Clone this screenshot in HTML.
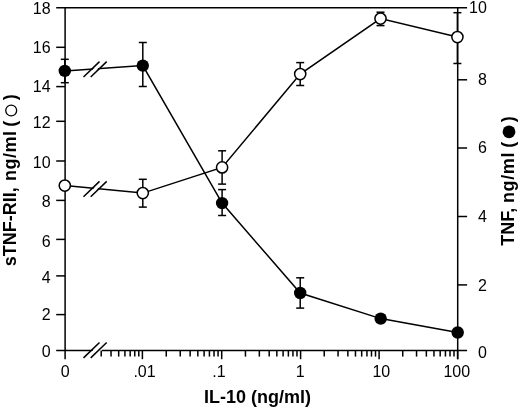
<!DOCTYPE html>
<html><head><meta charset="utf-8"><style>
html,body{margin:0;padding:0;background:#fff;}
svg{display:block;will-change:transform;}
text{font-family:"Liberation Sans",sans-serif;}
</style></head><body>
<svg width="520" height="409" viewBox="0 0 520 409">
<rect width="520" height="409" fill="#fff"/>
<line x1="56.20" y1="7.70" x2="467.10" y2="7.70" stroke="#000" stroke-width="1.5"/>
<line x1="65.10" y1="7.00" x2="65.10" y2="359.20" stroke="#000" stroke-width="1.5"/>
<line x1="457.70" y1="7.00" x2="457.70" y2="359.20" stroke="#000" stroke-width="1.5"/>
<line x1="56.20" y1="350.50" x2="95.00" y2="350.50" stroke="#000" stroke-width="1.5"/>
<line x1="102.00" y1="350.50" x2="467.10" y2="350.50" stroke="#000" stroke-width="1.5"/>
<line x1="56.20" y1="47.30" x2="65.10" y2="47.30" stroke="#000" stroke-width="1.5"/>
<line x1="56.20" y1="86.60" x2="65.10" y2="86.60" stroke="#000" stroke-width="1.5"/>
<line x1="56.20" y1="121.30" x2="65.10" y2="121.30" stroke="#000" stroke-width="1.5"/>
<line x1="56.20" y1="161.00" x2="65.10" y2="161.00" stroke="#000" stroke-width="1.5"/>
<line x1="56.20" y1="200.40" x2="65.10" y2="200.40" stroke="#000" stroke-width="1.5"/>
<line x1="56.20" y1="239.40" x2="65.10" y2="239.40" stroke="#000" stroke-width="1.5"/>
<line x1="56.20" y1="275.90" x2="65.10" y2="275.90" stroke="#000" stroke-width="1.5"/>
<line x1="56.20" y1="314.60" x2="65.10" y2="314.60" stroke="#000" stroke-width="1.5"/>
<line x1="457.70" y1="79.80" x2="467.10" y2="79.80" stroke="#000" stroke-width="1.5"/>
<line x1="457.70" y1="148.00" x2="467.10" y2="148.00" stroke="#000" stroke-width="1.5"/>
<line x1="457.70" y1="216.50" x2="467.10" y2="216.50" stroke="#000" stroke-width="1.5"/>
<line x1="457.70" y1="284.90" x2="467.10" y2="284.90" stroke="#000" stroke-width="1.5"/>
<line x1="142.40" y1="350.50" x2="142.40" y2="359.20" stroke="#000" stroke-width="1.5"/>
<line x1="221.70" y1="350.50" x2="221.70" y2="359.20" stroke="#000" stroke-width="1.5"/>
<line x1="300.60" y1="350.50" x2="300.60" y2="359.20" stroke="#000" stroke-width="1.5"/>
<line x1="379.10" y1="350.50" x2="379.10" y2="359.20" stroke="#000" stroke-width="1.5"/>
<line x1="457.60" y1="350.50" x2="457.60" y2="359.20" stroke="#000" stroke-width="1.5"/>
<line x1="101.20" y1="350.50" x2="101.20" y2="356.60" stroke="#000" stroke-width="1.5"/>
<line x1="111.04" y1="350.50" x2="111.04" y2="356.60" stroke="#000" stroke-width="1.5"/>
<line x1="118.68" y1="350.50" x2="118.68" y2="356.60" stroke="#000" stroke-width="1.5"/>
<line x1="124.92" y1="350.50" x2="124.92" y2="356.60" stroke="#000" stroke-width="1.5"/>
<line x1="130.19" y1="350.50" x2="130.19" y2="356.60" stroke="#000" stroke-width="1.5"/>
<line x1="134.76" y1="350.50" x2="134.76" y2="356.60" stroke="#000" stroke-width="1.5"/>
<line x1="138.79" y1="350.50" x2="138.79" y2="356.60" stroke="#000" stroke-width="1.5"/>
<line x1="166.27" y1="350.50" x2="166.27" y2="356.60" stroke="#000" stroke-width="1.5"/>
<line x1="180.24" y1="350.50" x2="180.24" y2="356.60" stroke="#000" stroke-width="1.5"/>
<line x1="190.14" y1="350.50" x2="190.14" y2="356.60" stroke="#000" stroke-width="1.5"/>
<line x1="197.83" y1="350.50" x2="197.83" y2="356.60" stroke="#000" stroke-width="1.5"/>
<line x1="204.11" y1="350.50" x2="204.11" y2="356.60" stroke="#000" stroke-width="1.5"/>
<line x1="209.42" y1="350.50" x2="209.42" y2="356.60" stroke="#000" stroke-width="1.5"/>
<line x1="214.02" y1="350.50" x2="214.02" y2="356.60" stroke="#000" stroke-width="1.5"/>
<line x1="218.07" y1="350.50" x2="218.07" y2="356.60" stroke="#000" stroke-width="1.5"/>
<line x1="245.45" y1="350.50" x2="245.45" y2="356.60" stroke="#000" stroke-width="1.5"/>
<line x1="259.34" y1="350.50" x2="259.34" y2="356.60" stroke="#000" stroke-width="1.5"/>
<line x1="269.20" y1="350.50" x2="269.20" y2="356.60" stroke="#000" stroke-width="1.5"/>
<line x1="276.85" y1="350.50" x2="276.85" y2="356.60" stroke="#000" stroke-width="1.5"/>
<line x1="283.10" y1="350.50" x2="283.10" y2="356.60" stroke="#000" stroke-width="1.5"/>
<line x1="288.38" y1="350.50" x2="288.38" y2="356.60" stroke="#000" stroke-width="1.5"/>
<line x1="292.95" y1="350.50" x2="292.95" y2="356.60" stroke="#000" stroke-width="1.5"/>
<line x1="296.99" y1="350.50" x2="296.99" y2="356.60" stroke="#000" stroke-width="1.5"/>
<line x1="324.23" y1="350.50" x2="324.23" y2="356.60" stroke="#000" stroke-width="1.5"/>
<line x1="338.05" y1="350.50" x2="338.05" y2="356.60" stroke="#000" stroke-width="1.5"/>
<line x1="347.86" y1="350.50" x2="347.86" y2="356.60" stroke="#000" stroke-width="1.5"/>
<line x1="355.47" y1="350.50" x2="355.47" y2="356.60" stroke="#000" stroke-width="1.5"/>
<line x1="361.68" y1="350.50" x2="361.68" y2="356.60" stroke="#000" stroke-width="1.5"/>
<line x1="366.94" y1="350.50" x2="366.94" y2="356.60" stroke="#000" stroke-width="1.5"/>
<line x1="371.49" y1="350.50" x2="371.49" y2="356.60" stroke="#000" stroke-width="1.5"/>
<line x1="375.51" y1="350.50" x2="375.51" y2="356.60" stroke="#000" stroke-width="1.5"/>
<line x1="402.73" y1="350.50" x2="402.73" y2="356.60" stroke="#000" stroke-width="1.5"/>
<line x1="416.55" y1="350.50" x2="416.55" y2="356.60" stroke="#000" stroke-width="1.5"/>
<line x1="426.36" y1="350.50" x2="426.36" y2="356.60" stroke="#000" stroke-width="1.5"/>
<line x1="433.97" y1="350.50" x2="433.97" y2="356.60" stroke="#000" stroke-width="1.5"/>
<line x1="440.18" y1="350.50" x2="440.18" y2="356.60" stroke="#000" stroke-width="1.5"/>
<line x1="445.44" y1="350.50" x2="445.44" y2="356.60" stroke="#000" stroke-width="1.5"/>
<line x1="449.99" y1="350.50" x2="449.99" y2="356.60" stroke="#000" stroke-width="1.5"/>
<line x1="454.01" y1="350.50" x2="454.01" y2="356.60" stroke="#000" stroke-width="1.5"/>
<line x1="64.80" y1="59.30" x2="64.80" y2="82.70" stroke="#000" stroke-width="1.5"/>
<line x1="60.80" y1="59.30" x2="68.80" y2="59.30" stroke="#000" stroke-width="1.5"/>
<line x1="60.80" y1="82.70" x2="68.80" y2="82.70" stroke="#000" stroke-width="1.5"/>
<line x1="142.80" y1="42.50" x2="142.80" y2="86.50" stroke="#000" stroke-width="1.5"/>
<line x1="138.80" y1="42.50" x2="146.80" y2="42.50" stroke="#000" stroke-width="1.5"/>
<line x1="138.80" y1="86.50" x2="146.80" y2="86.50" stroke="#000" stroke-width="1.5"/>
<line x1="222.10" y1="189.60" x2="222.10" y2="215.50" stroke="#000" stroke-width="1.5"/>
<line x1="218.10" y1="189.60" x2="226.10" y2="189.60" stroke="#000" stroke-width="1.5"/>
<line x1="218.10" y1="215.50" x2="226.10" y2="215.50" stroke="#000" stroke-width="1.5"/>
<line x1="300.20" y1="277.80" x2="300.20" y2="308.10" stroke="#000" stroke-width="1.5"/>
<line x1="296.20" y1="277.80" x2="304.20" y2="277.80" stroke="#000" stroke-width="1.5"/>
<line x1="296.20" y1="308.10" x2="304.20" y2="308.10" stroke="#000" stroke-width="1.5"/>
<line x1="142.80" y1="179.30" x2="142.80" y2="207.10" stroke="#000" stroke-width="1.5"/>
<line x1="138.80" y1="179.30" x2="146.80" y2="179.30" stroke="#000" stroke-width="1.5"/>
<line x1="138.80" y1="207.10" x2="146.80" y2="207.10" stroke="#000" stroke-width="1.5"/>
<line x1="222.10" y1="150.80" x2="222.10" y2="184.10" stroke="#000" stroke-width="1.5"/>
<line x1="218.10" y1="150.80" x2="226.10" y2="150.80" stroke="#000" stroke-width="1.5"/>
<line x1="218.10" y1="184.10" x2="226.10" y2="184.10" stroke="#000" stroke-width="1.5"/>
<line x1="300.20" y1="62.60" x2="300.20" y2="85.50" stroke="#000" stroke-width="1.5"/>
<line x1="296.20" y1="62.60" x2="304.20" y2="62.60" stroke="#000" stroke-width="1.5"/>
<line x1="296.20" y1="85.50" x2="304.20" y2="85.50" stroke="#000" stroke-width="1.5"/>
<line x1="380.50" y1="12.20" x2="380.50" y2="25.60" stroke="#000" stroke-width="1.5"/>
<line x1="376.50" y1="12.20" x2="384.50" y2="12.20" stroke="#000" stroke-width="1.5"/>
<line x1="376.50" y1="25.60" x2="384.50" y2="25.60" stroke="#000" stroke-width="1.5"/>
<line x1="457.40" y1="12.70" x2="457.40" y2="63.50" stroke="#000" stroke-width="1.5"/>
<line x1="453.40" y1="12.70" x2="461.40" y2="12.70" stroke="#000" stroke-width="1.5"/>
<line x1="453.40" y1="63.50" x2="461.40" y2="63.50" stroke="#000" stroke-width="1.5"/>
<path d="M64.80,70.90 L142.80,65.60 L222.10,203.10 L300.20,293.00 L380.70,318.60 L457.70,332.50" fill="none" stroke="#000" stroke-width="1.5"/>
<path d="M64.80,185.60 L142.80,193.10 L222.10,167.40 L300.20,74.10 L380.50,18.60 L457.40,37.10" fill="none" stroke="#000" stroke-width="1.5"/>
<polygon points="85.00,357.90 101.00,342.50 105.20,342.50 89.20,357.90" fill="#fff"/>
<line x1="83.50" y1="357.90" x2="99.50" y2="342.50" stroke="#000" stroke-width="1.5"/>
<line x1="90.70" y1="357.90" x2="106.70" y2="342.50" stroke="#000" stroke-width="1.5"/>
<polygon points="85.00,77.00 101.00,61.60 105.20,61.60 89.20,77.00" fill="#fff"/>
<line x1="83.50" y1="77.00" x2="99.50" y2="61.60" stroke="#000" stroke-width="1.5"/>
<line x1="90.70" y1="77.00" x2="106.70" y2="61.60" stroke="#000" stroke-width="1.5"/>
<polygon points="85.00,196.80 101.00,181.40 105.20,181.40 89.20,196.80" fill="#fff"/>
<line x1="83.50" y1="196.80" x2="99.50" y2="181.40" stroke="#000" stroke-width="1.5"/>
<line x1="90.70" y1="196.80" x2="106.70" y2="181.40" stroke="#000" stroke-width="1.5"/>
<circle cx="64.8" cy="70.9" r="6.2" fill="#000"/>
<circle cx="142.8" cy="65.6" r="6.2" fill="#000"/>
<circle cx="222.1" cy="203.1" r="6.2" fill="#000"/>
<circle cx="300.2" cy="293.0" r="6.2" fill="#000"/>
<circle cx="380.7" cy="318.6" r="6.2" fill="#000"/>
<circle cx="457.7" cy="332.5" r="6.2" fill="#000"/>
<circle cx="64.8" cy="185.6" r="5.6" fill="#fff" stroke="#000" stroke-width="1.5"/>
<circle cx="142.8" cy="193.1" r="5.6" fill="#fff" stroke="#000" stroke-width="1.5"/>
<circle cx="222.1" cy="167.4" r="5.6" fill="#fff" stroke="#000" stroke-width="1.5"/>
<circle cx="300.2" cy="74.1" r="5.6" fill="#fff" stroke="#000" stroke-width="1.5"/>
<circle cx="380.5" cy="18.6" r="5.6" fill="#fff" stroke="#000" stroke-width="1.5"/>
<circle cx="457.4" cy="37.1" r="5.6" fill="#fff" stroke="#000" stroke-width="1.5"/>
<text x="50.6" y="14.40" font-size="16" text-anchor="end" font-family="Liberation Sans, sans-serif">18</text>
<text x="50.6" y="53.30" font-size="16" text-anchor="end" font-family="Liberation Sans, sans-serif">16</text>
<text x="50.6" y="92.00" font-size="16" text-anchor="end" font-family="Liberation Sans, sans-serif">14</text>
<text x="50.6" y="127.90" font-size="16" text-anchor="end" font-family="Liberation Sans, sans-serif">12</text>
<text x="50.6" y="167.70" font-size="16" text-anchor="end" font-family="Liberation Sans, sans-serif">10</text>
<text x="50.6" y="207.00" font-size="16" text-anchor="end" font-family="Liberation Sans, sans-serif">8</text>
<text x="50.6" y="246.90" font-size="16" text-anchor="end" font-family="Liberation Sans, sans-serif">6</text>
<text x="50.6" y="283.00" font-size="16" text-anchor="end" font-family="Liberation Sans, sans-serif">4</text>
<text x="50.6" y="319.80" font-size="16" text-anchor="end" font-family="Liberation Sans, sans-serif">2</text>
<text x="50.6" y="356.70" font-size="16" text-anchor="end" font-family="Liberation Sans, sans-serif">0</text>
<text x="486.9" y="13.10" font-size="16" text-anchor="end" font-family="Liberation Sans, sans-serif">10</text>
<text x="486.9" y="85.40" font-size="16" text-anchor="end" font-family="Liberation Sans, sans-serif">8</text>
<text x="486.9" y="153.30" font-size="16" text-anchor="end" font-family="Liberation Sans, sans-serif">6</text>
<text x="486.9" y="222.30" font-size="16" text-anchor="end" font-family="Liberation Sans, sans-serif">4</text>
<text x="486.9" y="291.00" font-size="16" text-anchor="end" font-family="Liberation Sans, sans-serif">2</text>
<text x="486.9" y="357.50" font-size="16" text-anchor="end" font-family="Liberation Sans, sans-serif">0</text>
<text x="65.1" y="376.7" font-size="16" text-anchor="middle" font-family="Liberation Sans, sans-serif">0</text>
<text x="144.5" y="376.7" font-size="16" text-anchor="middle" font-family="Liberation Sans, sans-serif">.01</text>
<text x="219.0" y="376.7" font-size="16" text-anchor="middle" font-family="Liberation Sans, sans-serif">.1</text>
<text x="300.1" y="376.7" font-size="16" text-anchor="middle" font-family="Liberation Sans, sans-serif">1</text>
<text x="381.3" y="376.7" font-size="16" text-anchor="middle" font-family="Liberation Sans, sans-serif">10</text>
<text x="456.75" y="376.7" font-size="16" text-anchor="middle" font-family="Liberation Sans, sans-serif">100</text>
<text x="203.9" y="402.9" font-size="18" font-weight="bold" font-family="Liberation Sans, sans-serif">IL-10 (ng/ml)</text>
<text transform="translate(15.6,266.3) rotate(-90)" font-size="18" font-weight="bold" font-family="Liberation Sans, sans-serif">sTNF-RII,</text>
<text transform="translate(15.6,180.9) rotate(-90)" font-size="18" font-weight="bold" letter-spacing="0.47" font-family="Liberation Sans, sans-serif">ng/ml</text>
<text transform="translate(15.6,126.7) rotate(-90)" font-size="18" font-weight="bold" font-family="Liberation Sans, sans-serif">(</text>
<text transform="translate(15.6,100.3) rotate(-90)" font-size="18" font-weight="bold" font-family="Liberation Sans, sans-serif">)</text>
<circle cx="11.2" cy="110.5" r="5.45" fill="none" stroke="#000" stroke-width="1.3"/>
<text transform="translate(513.6,245.8) rotate(-90)" font-size="18" font-weight="bold" font-family="Liberation Sans, sans-serif">TNF,</text>
<text transform="translate(513.6,203.0) rotate(-90)" font-size="18" font-weight="bold" letter-spacing="0.6" font-family="Liberation Sans, sans-serif">ng/ml</text>
<text transform="translate(513.6,147.7) rotate(-90)" font-size="18" font-weight="bold" font-family="Liberation Sans, sans-serif">(</text>
<text transform="translate(513.6,122.3) rotate(-90)" font-size="18" font-weight="bold" font-family="Liberation Sans, sans-serif">)</text>
<circle cx="509" cy="131.8" r="6.4" fill="#000"/>
</svg>
</body></html>
